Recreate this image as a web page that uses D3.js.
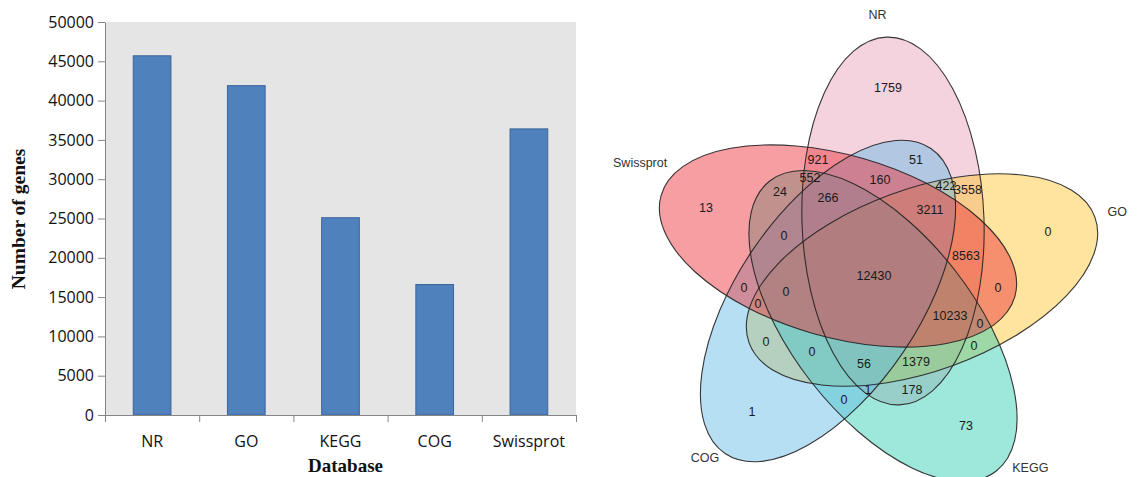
<!DOCTYPE html>
<html><head><meta charset="utf-8">
<script src="https://cdn.jsdelivr.net/npm/d3@7"></script>
<style>
html,body{margin:0;padding:0;background:#fff;}
svg{display:block;}
</style></head>
<body>
<svg id="chart" width="1137" height="477"></svg>
<script>
// ---------------- data ----------------
const databases = ["NR", "GO", "KEGG", "COG", "Swissprot"];
const geneCounts = [45700, 41900, 25100, 16600, 36400];
const yTickValues = [0, 5000, 10000, 15000, 20000, 25000, 30000, 35000, 40000, 45000, 50000];
const xAxisTitle = "Database";
const yAxisTitle = "Number of genes";

const vennSets = ["Swissprot", "NR", "GO", "KEGG", "COG"];
const vennRegions = [
  "NR", "GO", "KEGG", "COG", "Swissprot",
  "NR&Swissprot", "Swissprot&KEGG", "NR&COG", "NR&GO", "Swissprot&GO",
  "GO&KEGG", "NR&KEGG", "GO&COG", "KEGG&COG", "Swissprot&COG",
  "Swissprot&NR&KEGG", "Swissprot&NR&COG", "NR&GO&COG", "Swissprot&NR&GO", "Swissprot&GO&KEGG",
  "NR&GO&KEGG", "NR&KEGG&COG", "GO&KEGG&COG", "Swissprot&KEGG&COG", "Swissprot&GO&COG",
  "Swissprot&NR&KEGG&COG", "Swissprot&NR&GO&COG", "Swissprot&NR&GO&KEGG", "NR&GO&KEGG&COG", "Swissprot&GO&KEGG&COG",
  "Swissprot&NR&GO&KEGG&COG"
];
const vennCounts = [
  1759, 0, 73, 1, 13,
  921, 24, 51, 3558, 0,
  0, 178, 0, 0, 0,
  552, 160, 422, 8563, 0,
  1379, 1, 0, 0, 0,
  266, 3211, 10233, 56, 0,
  12430
];

// ---------------- styles / layout ----------------
const svg = d3.select("#chart");

const plot = {left: 105, right: 576, top: 22, bottom: 415};
const x = d3.scaleBand().domain(databases).range([plot.left, plot.right]).paddingInner(0.6).paddingOuter(0.3);
const y = d3.scaleLinear().domain([0, 50000]).range([plot.bottom, plot.top]);

svg.append("rect")
  .attr("x", plot.left + 1).attr("y", plot.top)
  .attr("width", plot.right - plot.left - 1).attr("height", plot.bottom - plot.top)
  .attr("fill", "#e5e5e5");

svg.append("g").selectAll("rect").data(databases).join("rect")
  .attr("x", d => x(d)).attr("y", (d, i) => y(geneCounts[i]))
  .attr("width", x.bandwidth()).attr("height", (d, i) => y(0) - y(geneCounts[i]))
  .attr("fill", "#4f81bd").attr("stroke", "#3a659b").attr("stroke-width", 1);

const tickFont = "'Open Sans', 'Liberation Sans', sans-serif";
const yAxis = svg.append("g").attr("transform", `translate(${plot.left},0)`)
  .call(d3.axisLeft(y).tickValues(yTickValues).tickSize(7).tickSizeOuter(0).tickPadding(4).tickFormat(d3.format("d")));
yAxis.selectAll("path, line").attr("stroke", "#868686");
yAxis.selectAll("text").attr("font-family", tickFont).attr("font-size", 16).attr("fill", "#111");

const sep = d3.scaleLinear().domain([0, databases.length]).range([plot.left, plot.right]);
const xSep = svg.append("g").attr("transform", `translate(0,${plot.bottom})`)
  .call(d3.axisBottom(sep).ticks(databases.length).tickSize(7).tickSizeOuter(0).tickFormat(""));
xSep.selectAll("path, line").attr("stroke", "#868686");

const xAxis = svg.append("g").attr("transform", `translate(0,${plot.bottom})`)
  .call(d3.axisBottom(x).tickSize(0).tickPadding(21));
xAxis.select(".domain").remove();
xAxis.selectAll("text").attr("font-family", tickFont).attr("font-size", 16).attr("fill", "#111");

svg.append("text").text(xAxisTitle)
  .attr("x", (plot.left + plot.right) / 2 + 5).attr("y", 472)
  .attr("text-anchor", "middle").attr("font-family", "'Liberation Serif', 'Times New Roman', serif")
  .attr("font-weight", "bold").attr("font-size", 19).attr("fill", "#111");

svg.append("text").text(yAxisTitle)
  .attr("transform", "translate(25,219) rotate(-90)")
  .attr("text-anchor", "middle").attr("font-family", "'Liberation Serif', 'Times New Roman', serif")
  .attr("font-weight", "bold").attr("font-size", 19.5).attr("fill", "#111");

// ---------------- Venn diagram ----------------
// ellipse geometry (layout): centre, rotation of major axis
const vennShape = {
  Swissprot: {cx: 838, cy: 246, rot: 16},
  NR:        {cx: 893, cy: 221, rot: 88},
  GO:        {cx: 922, cy: 280, rot: 160},
  KEGG:      {cx: 883, cy: 326, rot: 232},
  COG:       {cx: 828, cy: 301, rot: 304}
};
const venn = {cx: 873, cy: 274, a: 184, b: 91};
const vennFill = {NR: "#e6a0b8", GO: "#fcc52c", KEGG: "#2ccab0", COG: "#63b9e6", Swissprot: "#eb2c34"};
const vennLabelPolar = {NR: [-89, 259], GO: [-14.3, 252], KEGG: [51, 250], COG: [132.4, 249], Swissprot: [205.5, 258]};
const rad = Math.PI / 180;
const ellipses = vennSets.map(s => {
  const g = vennShape[s];
  return {set: s, rot: g.rot, cx: g.cx, cy: g.cy, cos: Math.cos(g.rot * rad), sin: Math.sin(g.rot * rad)};
});
const inside = (e, px, py) => {
  const dx = px - e.cx, dy = py - e.cy;
  const u = dx * e.cos + dy * e.sin, v = -dx * e.sin + dy * e.cos;
  return (u / venn.a) ** 2 + (v / venn.b) ** 2 < 1;
};

const drawOrder = ["NR", "GO", "KEGG", "COG", "Swissprot"];
const byName = Object.fromEntries(ellipses.map(e => [e.set, e]));
const gV = svg.append("g");
gV.selectAll("ellipse.fill").data(drawOrder.map(s => byName[s])).join("ellipse")
  .attr("class", "fill")
  .attr("cx", 0).attr("cy", 0).attr("rx", venn.a).attr("ry", venn.b)
  .attr("transform", e => `translate(${e.cx},${e.cy}) rotate(${e.rot})`)
  .attr("fill", e => vennFill[e.set]).attr("fill-opacity", 0.46);
gV.selectAll("ellipse.edge").data(drawOrder.map(s => byName[s])).join("ellipse")
  .attr("class", "edge")
  .attr("cx", 0).attr("cy", 0).attr("rx", venn.a).attr("ry", venn.b)
  .attr("transform", e => `translate(${e.cx},${e.cy}) rotate(${e.rot})`)
  .attr("fill", "none").attr("stroke", "#222").attr("stroke-opacity", 0.9).attr("stroke-width", 1.1);

// region label placement: deepest point of each region (chamfer distance transform)
const step = 2, gx0 = 600, gy0 = 0, nx = Math.ceil((1137 - gx0) / step), ny = Math.ceil(477 / step);
const mask = new Int16Array(nx * ny), dist = new Float32Array(nx * ny);
for (let j = 0; j < ny; j++) for (let i = 0; i < nx; i++) {
  let m = 0; const px = gx0 + i * step, py = gy0 + j * step;
  ellipses.forEach((e, k) => { if (inside(e, px, py)) m |= 1 << k; });
  mask[j * nx + i] = m;
}
for (let j = 0; j < ny; j++) for (let i = 0; i < nx; i++) {
  const id = j * nx + i, m = mask[id];
  let edge = i === 0 || j === 0 || i === nx - 1 || j === ny - 1;
  if (!edge) edge = mask[id - 1] !== m || mask[id + 1] !== m || mask[id - nx] !== m || mask[id + nx] !== m;
  dist[id] = edge ? 0 : 1e9;
}
const D = Math.SQRT2;
for (let j = 1; j < ny - 1; j++) for (let i = 1; i < nx - 1; i++) {
  const id = j * nx + i;
  dist[id] = Math.min(dist[id], dist[id - 1] + 1, dist[id - nx] + 1, dist[id - nx - 1] + D, dist[id - nx + 1] + D);
}
for (let j = ny - 2; j > 0; j--) for (let i = nx - 2; i > 0; i--) {
  const id = j * nx + i;
  dist[id] = Math.min(dist[id], dist[id + 1] + 1, dist[id + nx] + 1, dist[id + nx + 1] + D, dist[id + nx - 1] + D);
}
const best = {};
for (let id = 0; id < nx * ny; id++) {
  const m = mask[id]; if (!m) continue;
  if (!best[m] || dist[id] > best[m].d) best[m] = {d: dist[id], x: gx0 + (id % nx) * step, y: gy0 + Math.floor(id / nx) * step};
}
const regionMask = r => r.split("&").reduce((m, s) => m | (1 << vennSets.indexOf(s)), 0);
const spot = r => best[regionMask(r)] || {x: venn.cx, y: venn.cy};
gV.selectAll("text.count").data(vennRegions).join("text")
  .attr("class", "count")
  .attr("x", r => spot(r).x).attr("y", r => spot(r).y)
  .attr("text-anchor", "middle").attr("dominant-baseline", "central")
  .attr("font-family", "'Liberation Sans', Arial, sans-serif").attr("font-size", 12.5).attr("fill", "#1a1a1a")
  .text((r, i) => vennCounts[i]);

gV.selectAll("text.setname").data(vennSets).join("text")
  .attr("class", "setname")
  .attr("x", s => venn.cx + vennLabelPolar[s][1] * Math.cos(vennLabelPolar[s][0] * rad))
  .attr("y", s => venn.cy + vennLabelPolar[s][1] * Math.sin(vennLabelPolar[s][0] * rad))
  .attr("text-anchor", "middle").attr("dominant-baseline", "central")
  .attr("font-family", "'Liberation Sans', Arial, sans-serif").attr("font-size", 12.5).attr("fill", "#333")
  .text(s => s);
</script>
</body></html>
